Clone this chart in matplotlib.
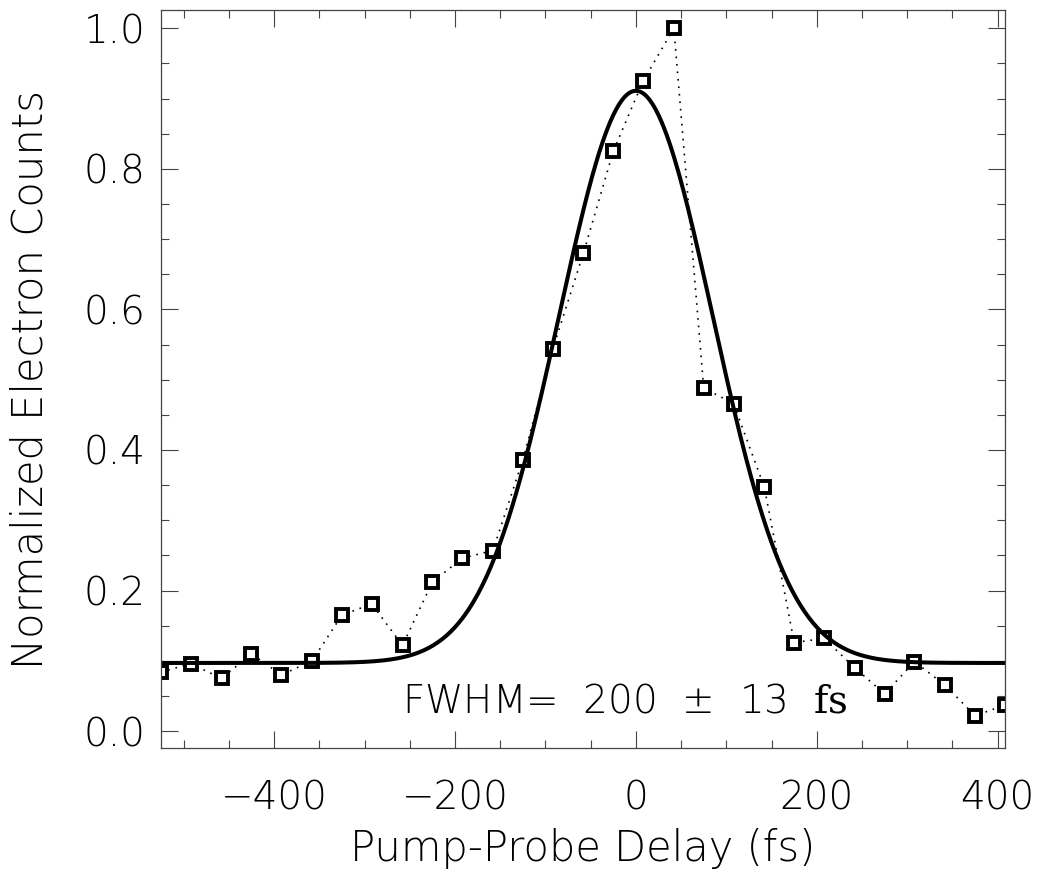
import numpy as np
import matplotlib
matplotlib.use("Agg")
import matplotlib.pyplot as plt
from matplotlib.ticker import MultipleLocator

# measured points (delay in fs, normalized counts)
delay = [-525, -492, -458, -425, -392, -358, -325, -292, -258, -225,
         -192, -158, -125, -92, -58, -25, 8, 42, 75, 108,
         142, 175, 208, 242, 275, 308, 342, 375, 408]
counts = [0.084, 0.096, 0.075, 0.110, 0.080, 0.100, 0.165, 0.181, 0.122, 0.212,
          0.246, 0.257, 0.386, 0.543, 0.680, 0.825, 0.925, 1.000, 0.488, 0.466,
          0.347, 0.126, 0.132, 0.090, 0.053, 0.099, 0.065, 0.022, 0.037]

# gaussian fit parameters
fit_center = 0.0
fit_fwhm = 200.0
fit_amp = 0.814
fit_base = 0.097

plt.rcParams['font.family'] = ['DejaVu Sans']
plt.rcParams['font.weight'] = 'light'
plt.rcParams['axes.labelweight'] = 'light'
plt.rcParams['mathtext.fontset'] = 'dejavuserif'
fs = 28

fig = plt.figure(figsize=(10.4, 8.76), dpi=100)
ax = fig.add_axes([0.1548, 0.1461, 0.9663 - 0.1548, 0.9886 - 0.1461])

sigma = fit_fwhm / (2 * np.sqrt(2 * np.log(2)))
xf = np.linspace(-525, 408, 600)
yf = fit_base + fit_amp * np.exp(-(xf - fit_center) ** 2 / (2 * sigma ** 2))

ax.plot(delay, counts, color='k', lw=1.2, ls=(0, (1, 3.5)))
ax.plot(delay, counts, ls='none', marker='s', ms=8.5, mew=2.8,
        mec='k', mfc='white')
ax.plot(xf, yf, color='k', lw=2.9)

ax.set_xlim(-525, 408)
ax.set_ylim(-0.024, 1.026)
ax.xaxis.set_major_locator(MultipleLocator(200))
ax.xaxis.set_minor_locator(MultipleLocator(50))
ax.yaxis.set_major_locator(MultipleLocator(0.2))
ax.yaxis.set_minor_locator(MultipleLocator(0.05))
ax.xaxis.set_major_formatter(plt.FuncFormatter(lambda v, p: f"{v:.0f}".replace('-', '\u2212')))
ax.yaxis.set_major_formatter(plt.FuncFormatter(lambda v, p: f"{v:.1f}"))

ax.tick_params(which='both', direction='in', top=True, right=True,
               labelsize=fs, width=0.8, color='#444444')
ax.tick_params(which='major', length=12)
ax.tick_params(which='minor', length=6)
ax.tick_params(axis='x', which='major', pad=23)
ax.tick_params(axis='y', which='major', pad=11)
for s in ax.spines.values():
    s.set_linewidth(0.9)
    s.set_color('#444444')

ax.set_xlabel("Pump-Probe Delay (fs)", fontsize=30, labelpad=7)
ax.set_ylabel("Normalized Electron Counts", fontsize=30, labelpad=24)

ax.text(-259, 0.026, "FWHM=  200  \u00b1  13  $\\mathrm{fs}$", fontsize=fs, va='baseline')

fig.savefig("out.png", dpi=100)
